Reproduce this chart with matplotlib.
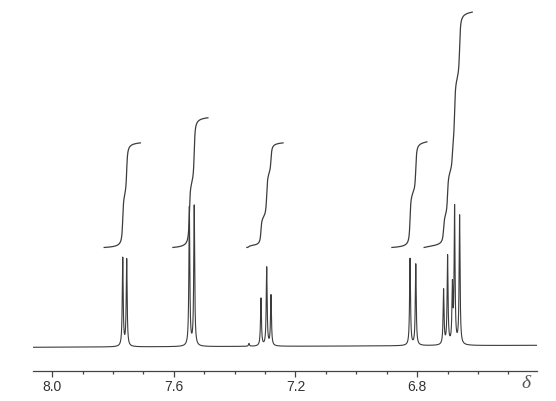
import numpy as np
import matplotlib
matplotlib.use("Agg")
import matplotlib.pyplot as plt

# peak lines: chemical shift (ppm) and height (tallest = 100)
peak_ppm = [7.768, 7.755,
            7.549, 7.533,
            7.3135, 7.2947, 7.2806,
            6.8234, 6.8046,
            6.7132, 6.7000, 6.6842, 6.6770, 6.6605,
            7.353]
peak_height = [63, 62,
               99, 100,
               34, 56, 36,
               62, 58,
               39, 63, 40, 97, 92,
               2]

# integral regions (ppm window start, end) and relative integral values
integral_start = [7.829, 7.603, 7.360, 6.883, 6.777]
integral_end = [7.710, 7.488, 7.241, 6.768, 6.619]
integral_value = [1.00, 1.24, 1.00, 1.01, 2.25]

# baseline drift read at left and right ends
baseline_ends = [-0.2, 1.2]

x_major = [8.0, 7.6, 7.2, 6.8]
x_major_labels = ["8.0", "7.6", "7.2", "6.8"]

xmin, xmax = 8.063, 6.406
hwhm = 0.0018
line_col = "#3c3c3c"

ppm = np.linspace(xmin, xmax, 40000)


def lines(x, w=hwhm):
    y = np.zeros_like(x)
    for p, h in zip(peak_ppm, peak_height):
        y += h * w**2 / ((x - p) ** 2 + w**2)
    return y


spec = lines(ppm) + np.linspace(baseline_ends[0], baseline_ends[1], ppm.size)

fig = plt.figure(figsize=(5.56, 4.01), dpi=100)
ax = fig.add_axes([33 / 556, 30 / 401, 504 / 556, 371 / 401])
ax.plot(ppm, spec, color=line_col, lw=0.8)

# integral traces
int_base = 71.1
int_unit = 74.7
for a, b, v in zip(integral_start, integral_end, integral_value):
    xx = np.linspace(a, b, 2000)
    cum = np.cumsum(lines(xx, 0.0022))
    cum = (cum - cum[0]) / (cum[-1] - cum[0])
    ax.plot(xx, int_base + v * int_unit * cum, color=line_col, lw=0.9)

ax.set_xlim(xmin, xmax)
ax.set_ylim(-17.14, 247.86)
ax.set_xticks(x_major)
ax.set_xticklabels(x_major_labels, family="Liberation Sans", fontsize=10, color="#333333")
ax.set_xticks(np.arange(6.5, 8.05, 0.1), minor=True)
ax.tick_params(axis="x", which="major", direction="out", length=4, width=0.9,
               color="#444444", pad=2.5)
ax.tick_params(axis="x", which="minor", direction="out", length=2.5, width=0.9,
               color="#444444")
ax.set_yticks([])
for s in ["left", "right", "top"]:
    ax.spines[s].set_visible(False)
ax.spines["bottom"].set_color("#444444")
ax.spines["bottom"].set_linewidth(0.9)
ax.patch.set_alpha(0)

fig.text(525.7 / 556, 1 - 384 / 401, "δ", fontsize=14, color="#555555",
         ha="center", va="center", family="Liberation Serif", style="italic")

fig.savefig("out.png", dpi=100)
